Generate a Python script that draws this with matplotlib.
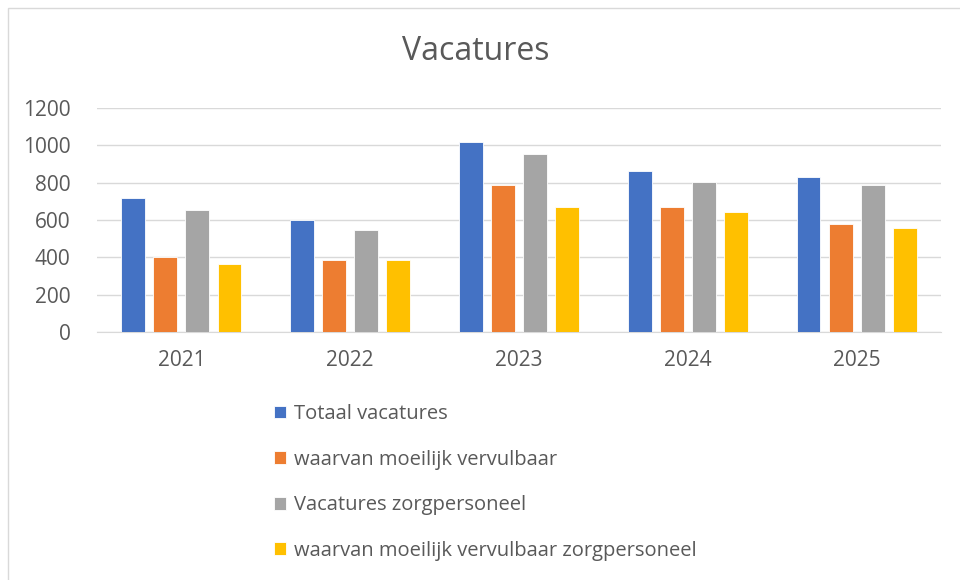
import matplotlib
matplotlib.use("Agg")
import matplotlib.pyplot as plt
import numpy as np
from matplotlib.patches import Rectangle

plt.rcParams['font.family'] = ['Open Sans', 'DejaVu Sans']

years = ["2021", "2022", "2023", "2024", "2025"]
series_names = ["Totaal vacatures", "waarvan moeilijk vervulbaar",
                "Vacatures zorgpersoneel", "waarvan moeilijk vervulbaar zorgpersoneel"]
totaal = [720, 602, 1020, 861, 828]
moeilijk = [400, 388, 785, 667, 580]
zorg = [656, 548, 956, 806, 785]
moeilijk_zorg = [366, 388, 667, 645, 559]
colors = ["#4472C4", "#ED7D31", "#A5A5A5", "#FFC000"]
yticks = [0, 200, 400, 600, 800, 1000, 1200]

fig = plt.figure(figsize=(9.6, 5.8), dpi=100)
ax = fig.add_axes([97/960, 1 - 332/580, (941-97)/960, (332-108)/580])

x = np.arange(len(years))
width = 0.142
step = 0.19
data = [totaal, moeilijk, zorg, moeilijk_zorg]
handles = []
for i, (vals, c, name) in enumerate(zip(data, colors, series_names)):
    h = ax.bar(x + (i - 1.5) * step, vals, width, color=c, label=name,
               edgecolor='white', linewidth=0.6, zorder=3)
    handles.append(h)

ax.set_xlim(-0.5, len(years) - 0.5)
ax.set_ylim(0, 1200)
ax.set_yticks(yticks)
ax.set_yticklabels([str(v) for v in yticks])
ax.set_xticks(x)
ax.set_xticklabels(years)
ax.grid(axis='y', color='#d9d9d9', linewidth=1, zorder=0)
for s in ['top', 'right', 'left']:
    ax.spines[s].set_visible(False)
ax.spines['bottom'].set_color('#d9d9d9')
ax.tick_params(axis='both', length=0, labelsize=15, colors='#595959')
ax.tick_params(axis='x', pad=13)
ax.tick_params(axis='y', pad=19)

fig.text(476/960, 1 - 52/580, "Vacatures", ha='center', va='center',
         fontsize=23, color='#595959')

leg = fig.legend(handles=handles, labels=series_names, loc='upper left',
                 bbox_to_anchor=(256/960, 1 - 386/580), frameon=False,
                 fontsize=14.5, labelcolor='#595959', handlelength=0.6,
                 handleheight=0.6, handletextpad=0.4, labelspacing=1.27)

fig.patches.append(Rectangle((8/960, -0.1), 0.99 - 8/960 + 0.2, 1 - 8/580 + 0.1,
                             transform=fig.transFigure, fill=False,
                             edgecolor='#d9d9d9', linewidth=1))

fig.savefig("out.png", dpi=100)
